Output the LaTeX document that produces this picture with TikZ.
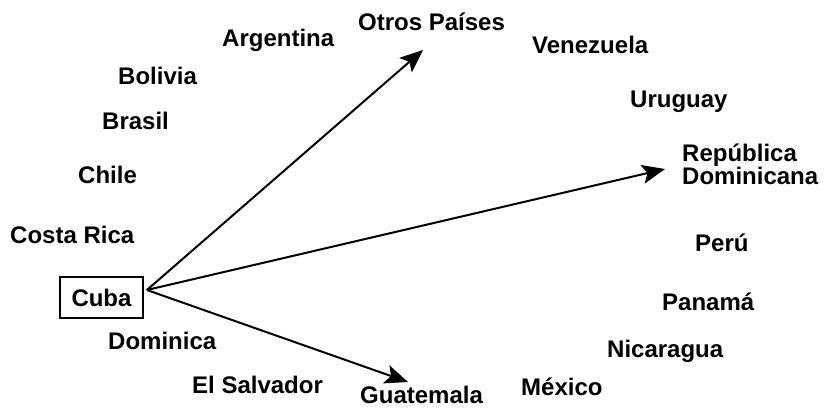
\documentclass[tikz,border=0pt]{standalone}
\usepackage{fontspec}
\setmainfont{Liberation Sans}
\usetikzlibrary{arrows.meta}
\begin{document}
\begin{tikzpicture}[x=1pt,y=-1pt,
  lbl/.style={anchor=base west,inner sep=0pt,font=\fontsize{24}{24}\selectfont\bfseries},
  hubbox/.style={draw,line width=1.8pt,minimum width=83pt,minimum height=41pt,inner sep=0pt,font=\fontsize{24}{24}\selectfont\bfseries},
  arr/.style={line width=2pt,-{Stealth[length=23pt,width=19pt,inset=5pt]}}]
\useasboundingbox (0,0) rectangle (824,414);
\node[lbl] (arg) at (222,47) {Argentina};
\node[lbl] (otros) at (358,31) {Otros Países};
\node[lbl] (ven) at (532,54) {Venezuela};
\node[lbl] (bol) at (118,85) {Bolivia};
\node[lbl] (uru) at (630,108) {Uruguay};
\node[lbl] (bra) at (102,130) {Brasil};
\node[lbl] (rep1) at (682,162) {República};
\node[lbl] (rep2) at (682,185) {Dominicana};
\node[lbl] (chi) at (78,183) {Chile};
\node[lbl] (cos) at (10,243) {Costa Rica};
\node[lbl] (per) at (695,251) {Perú};
\node[hubbox] (cuba) at (101.5,297.5) {Cuba};
\node[lbl] (pan) at (662,310) {Panamá};
\node[lbl] (dom) at (108,349) {Dominica};
\node[lbl] (nic) at (607,357) {Nicaragua};
\node[lbl] (els) at (192,393) {El Salvador};
\node[lbl] (mex) at (521,395) {México};
\node[lbl] (gua) at (360,403) {Guatemala};
\coordinate (hub) at ([xshift=3pt,yshift=7.5pt]cuba.east);
\coordinate (tipotros) at (423,50);
\coordinate (tiprep) at (665,169);
\coordinate (tipgua) at (408,382);
\draw[arr] (hub) -- (tipotros);
\draw[arr] (hub) -- (tiprep);
\draw[arr] (hub) -- (tipgua);
\end{tikzpicture}
\end{document}
